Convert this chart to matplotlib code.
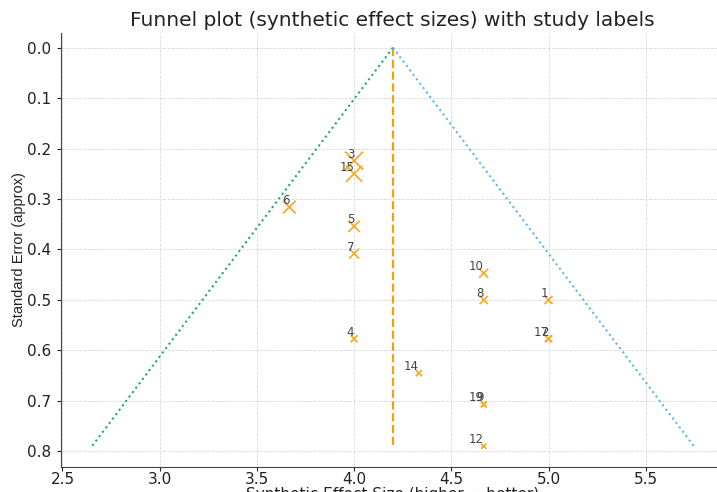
import matplotlib
matplotlib.use("Agg")
import matplotlib.pyplot as plt

# study data
study_ids = ["1", "2", "3", "4", "5", "6", "7", "8", "9", "10", "12", "14", "15", "17", "19"]
effect = [5.0, 5.0, 4.0, 4.0, 4.0, 3.667, 4.0, 4.667, 4.667, 4.667, 4.667, 4.333, 4.0, 5.0, 4.667]
std_err = [0.5, 0.577, 0.224, 0.577, 0.354, 0.316, 0.408, 0.5, 0.707, 0.447, 0.79, 0.645, 0.25, 0.577, 0.707]

pooled = 4.2
se_max = 0.79
z = 1.96

fig = plt.figure(figsize=(7.17, 4.92), dpi=100)
ax = fig.add_axes([0.0844, 0.0508, 0.926, 0.8822])

ax.grid(True, linestyle="--", linewidth=0.6, color="#d8d8d8")
ax.set_axisbelow(True)

ax.plot([pooled, pooled], [0, se_max], linestyle="--", color="#f0a30a", linewidth=1.6)
ax.plot([pooled, pooled - z * se_max], [0, se_max], linestyle=":", color="#1fa67a", linewidth=1.5)
ax.plot([pooled, pooled + z * se_max], [0, se_max], linestyle=":", color="#5fb6e8", linewidth=1.5)

sizes = [8.5 / (s * s) for s in std_err]
ax.scatter(effect, std_err, s=sizes, marker="x", color="#f2ae30", linewidths=1.3, zorder=3)
for sid, x, y in zip(study_ids, effect, std_err):
    ax.text(x, y, sid, fontsize=8.5, ha="right", va="bottom", color="#444444", zorder=4)

ax.set_xlim(2.49, 5.905)
ax.set_ylim(0.831, -0.029)
ax.set_xticks([2.5, 3.0, 3.5, 4.0, 4.5, 5.0, 5.5])
ax.set_yticks([0.0, 0.1, 0.2, 0.3, 0.4, 0.5, 0.6, 0.7, 0.8])
ax.tick_params(labelsize=11, colors="#222222", length=3)
ax.tick_params(axis="x", pad=0.5)

for side in ("top", "right"):
    ax.spines[side].set_visible(False)
for side in ("left", "bottom"):
    ax.spines[side].set_color("#444444")

ax.set_title("Funnel plot (synthetic effect sizes) with study labels", fontsize=14.5, color="#222222", pad=5)
ax.set_xlabel("Synthetic Effect Size (higher = better)", fontsize=11, color="#222222", labelpad=0)
ax.set_ylabel("Standard Error (approx)", fontsize=10.5, color="#222222",
              family=["Liberation Sans Narrow", "Liberation Sans", "DejaVu Sans"], labelpad=1)

fig.savefig("out.png", dpi=100)
